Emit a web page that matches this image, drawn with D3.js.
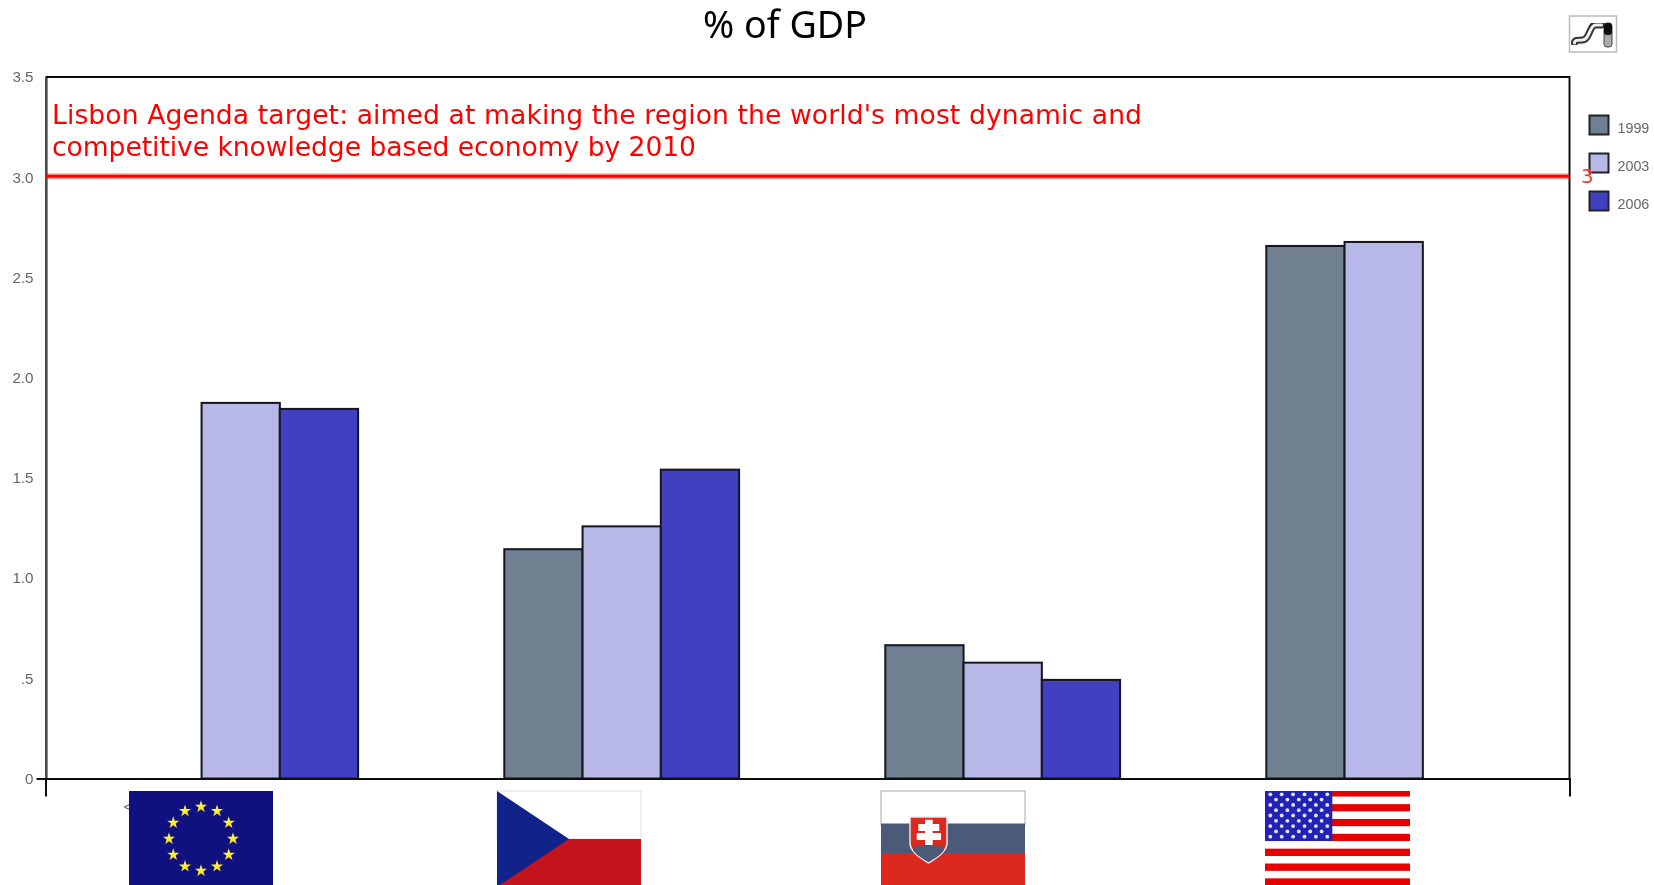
<!DOCTYPE html>
<html lang='en'>

<head>
   <meta charset='UTF-8'>
   <title>% of GDP</title>
   <script src='https://d3js.org/d3.v7.min.js'></script>
   <style>
      body {
         margin: 0;
         background: #fff;
         overflow: hidden;
      }

      svg {
         display: block;
      }

      .tick-label,
      .legend-label {
         font-family: 'Liberation Sans', sans-serif;
         fill: #666;
      }

      .tick-label {
         font-size: 15.2px;
      }

      .legend-label {
         font-size: 14.3px;
      }
   </style>
</head>

<body>
   <div id='svg-container'></div>
   <script>

      const categories = ['EU', 'CZ', 'SK', 'US'];
      const years = ['1999', '2003', '2006'];
      const values1999 = [null, 1.144, 0.665, 2.657];
      const values2003 = [1.874, 1.258, 0.578, 2.677];
      const values2006 = [1.844, 1.541, 0.492, null];
      const yTicks = [0, 0.5, 1, 1.5, 2, 2.5, 3, 3.5];
      const yTickLabels = ['0', '.5', '1.0', '1.5', '2.0', '2.5', '3.0', '3.5'];
      const target = [3];
      const title = '% of GDP';
      const targetNote = ["Lisbon Agenda target: aimed at making the region the world's most dynamic and",
         'competitive knowledge based economy by 2010'];
      const colours = ['#708090', '#b8b8e8', '#4040c0'];

      const seriesValues = [values1999, values2003, values2006];

      const margins = { top: 77, right: 84.5, bottom: 106.5, left: 45.5 };
      const width = 1654 - (margins.left + margins.right);
      const height = 885 - (margins.top + margins.bottom);

      const canvas = d3.select('#svg-container').append('svg').attr('width', 1654).attr('height', 885);

      // the source is a scaled up bitmap, a little blur gets text and edges close to it
      const defs = canvas.append('defs');
      defs.append('filter').attr('id', 'soft').append('feGaussianBlur').attr('stdDeviation', 0.45);
      defs.append('filter').attr('id', 'softer').append('feGaussianBlur').attr('stdDeviation', 0.7);

      const g = canvas.append('g').attr('transform', `translate(${margins.left}, ${margins.top})`);

      const x = d3.scaleBand().domain(categories).range([0, width]);
      const y = d3.scaleLinear().domain([0, 3.5]).range([height, 0]);
      // bars sit about 78px in from the band edge, 78px wide each
      const xYear = d3.scaleBand().domain(years).range([77.8, 312.6]);

      canvas.append('text')
         .attr('x', 785)
         .attr('y', 37.5)
         .attr('text-anchor', 'middle')
         .style('font-family', 'Noto Sans')
         .style('font-size', '37.6px')
         .text(title);

      // bars
      seriesValues.forEach((values, s) => {
         g.append('g').attr('filter', 'url(#soft)').selectAll('rect')
            .data(values.map((v, i) => ({ cat: categories[i], v })).filter(d => d.v !== null))
            .enter()
            .append('rect')
            .attr('x', d => x(d.cat) + xYear(years[s]))
            .attr('y', d => y(d.v))
            .attr('width', xYear.bandwidth())
            .attr('height', d => height - y(d.v))
            .attr('fill', colours[s])
            .attr('stroke', '#14141e')
            .attr('stroke-width', 2);
      });

      // frame
      g.append('path')
         .attr('d', `M0,0H${width}V${height}`)
         .attr('fill', 'none')
         .attr('stroke', '#111')
         .attr('stroke-width', 2)
         .attr('filter', 'url(#soft)');

      const leftAxisCall = d3.axisLeft(y)
         .tickValues(yTicks)
         .tickFormat((d, i) => yTickLabels[i])
         .tickSize(0)
         .tickSizeOuter(0)
         .tickPadding(12);
      const leftAxis = g.append('g').call(leftAxisCall);
      leftAxis.attr('font-size', null).attr('font-family', null).attr('filter', 'url(#soft)');
      leftAxis.select('.domain').attr('stroke', '#111').attr('stroke-width', 2);
      leftAxis.selectAll('text').attr('class', 'tick-label');
      leftAxis.selectAll('.tick').filter(d => d === 0).select('line')
         .attr('x2', -9).attr('stroke', '#111').attr('stroke-width', 2);

      const bottomAxisCall = d3.axisBottom(x).tickValues([]).tickSizeOuter(18);
      g.append('g').attr('transform', `translate(0, ${height})`).attr('filter', 'url(#soft)').call(bottomAxisCall)
         .select('.domain').attr('stroke', '#111').attr('stroke-width', 2);

      // what is left of the first category label, the rest is under the flags
      canvas.append('text')
         .attr('class', 'tick-label')
         .attr('x', 123.5)
         .attr('y', 812)
         .attr('filter', 'url(#soft)')
         .text('<');

      // target line
      g.selectAll('.target-halo').data(target).enter().append('line')
         .attr('class', 'target-halo')
         .attr('x1', 0).attr('x2', width)
         .attr('y1', d => y(d) - 1).attr('y2', d => y(d) - 1)
         .attr('stroke', '#f00').attr('stroke-opacity', 0.35).attr('stroke-width', 6);
      g.selectAll('.target-line').data(target).enter().append('line')
         .attr('class', 'target-line')
         .attr('x1', 0).attr('x2', width)
         .attr('y1', d => y(d) - 1).attr('y2', d => y(d) - 1)
         .attr('stroke', '#f00').attr('stroke-width', 3);

      // the two lines do not scale the same with this font, so fix their widths
      const noteWidths = [1090, 644];
      targetNote.forEach((line, i) => {
         canvas.append('text')
            .attr('x', 52)
            .attr('y', 124 + i * 32)
            .attr('fill', '#f00')
            .attr('textLength', noteWidths[i])
            .attr('lengthAdjust', 'spacing')
            .style('font-family', 'DejaVu Sans')
            .style('font-size', '26.6px')
            .text(line);
      });

      // legend
      const legend = canvas.append('g').selectAll('g').data(years).enter().append('g')
         .attr('transform', (d, i) => `translate(1589.5, ${115.5 + i * 38})`);
      legend.append('rect')
         .attr('width', 19)
         .attr('height', 19)
         .attr('fill', (d, i) => colours[i])
         .attr('stroke', '#222')
         .attr('stroke-width', 2)
         .attr('filter', 'url(#soft)');
      legend.append('text')
         .attr('class', 'legend-label')
         .attr('x', 28)
         .attr('y', 17.5)
         .attr('filter', 'url(#soft)')
         .text(d => d);

      // value of the target line, drawn over the legend
      canvas.selectAll('.target-value').data(target).enter().append('text')
         .attr('class', 'target-value')
         .attr('x', 1581)
         .attr('y', d => margins.top + y(d) + 6)
         .attr('fill', '#f03c3c')
         .style('font-family', 'DejaVu Sans')
         .style('font-size', '20px')
         .text(d => d);

      // toolbar icon, top right
      const icon = canvas.append('g').attr('transform', 'translate(1569.5, 16)');
      icon.append('rect').attr('width', 47).attr('height', 36).attr('fill', '#fff').attr('stroke', '#bbb').attr('stroke-width', 1.5);
      const squiggle = 'M5,27C5,24 8,24 13,24C20,24 20,9 26,9H32';
      icon.append('path').attr('d', squiggle).attr('fill', 'none').attr('stroke', '#333').attr('stroke-width', 7).attr('stroke-linecap', 'round').attr('filter', 'url(#softer)');
      icon.append('path').attr('d', squiggle).attr('fill', 'none').attr('stroke', '#eee').attr('stroke-width', 3).attr('stroke-linecap', 'round');
      icon.append('rect').attr('x', 34.5).attr('y', 7).attr('width', 8).attr('height', 24).attr('rx', 3).attr('fill', '#aaa').attr('stroke', '#444').attr('filter', 'url(#softer)');
      icon.append('rect').attr('x', 34.5).attr('y', 7).attr('width', 8).attr('height', 12).attr('rx', 3).attr('fill', '#111').attr('filter', 'url(#soft)');

      // flags, images in the original. drawn 144x96 from the left edge, cut by the page bottom
      const flagTop = 791;
      const flagW = 144;
      const flagH = 96;
      const flagG = (left) => canvas.append('g').attr('transform', `translate(${left}, ${flagTop})`);

      // EU
      const eu = flagG(129);
      eu.append('rect').attr('width', flagW).attr('height', flagH).attr('fill', '#10107f');
      const starAngle = d3.scaleLinear().domain([0, 12]).range([0, 2 * Math.PI]);
      eu.selectAll('path').data(d3.range(12)).enter().append('path')
         .attr('d', d3.symbol(d3.symbolStar, 46))
         .attr('fill', '#ffee33')
         .attr('transform', d => `translate(${72 + 32 * Math.sin(starAngle(d))}, ${47.7 - 32 * Math.cos(starAngle(d))})`);

      // Czech Republic
      const cz = flagG(497);
      cz.append('rect').attr('width', flagW).attr('height', flagH / 2).attr('fill', '#fff').attr('stroke', '#e2e2e2');
      cz.append('rect').attr('y', flagH / 2).attr('width', flagW).attr('height', flagH / 2).attr('fill', '#c3141e');
      cz.append('path').attr('d', `M0,0L${flagW / 2},${flagH / 2}L0,${flagH}Z`).attr('fill', '#11228b');

      // Slovakia
      const sk = flagG(881);
      sk.append('rect').attr('width', flagW).attr('height', 34).attr('fill', '#fff').attr('stroke', '#aaa');
      sk.append('rect').attr('y', 32.5).attr('width', flagW).attr('height', 30).attr('fill', '#4a5a78');
      sk.append('rect').attr('y', 62).attr('width', flagW).attr('height', 34).attr('fill', '#dc281e');
      const shield = sk.append('g').attr('transform', 'translate(29, 26)');
      shield.append('path').attr('d', 'M0,0H37V26C37,35 26,41 18.5,46C11,41 0,35 0,26Z').attr('fill', '#dc281e').attr('stroke', '#e8e8e8').attr('stroke-width', 1.5);
      shield.append('path').attr('d', 'M3,33C3,29 8,28 11,30C13,26 24,26 26,30C29,28 34,29 34,33C31,38 24,42 18.5,45C13,42 6,38 3,33Z').attr('fill', '#4a5a78');
      shield.append('path').attr('d', 'M15,2.7H22.7V7H29.3V14H22.7V16H31V23H22.7V28H15V23H6.7V16H15V14H8.3V7H15Z').attr('fill', '#fff');

      // USA
      const us = flagG(1265);
      const stripeH = 7.42;
      us.selectAll('.stripe').data(d3.range(14)).enter().append('rect')
         .attr('class', 'stripe')
         .attr('y', d => Math.max(0, d * stripeH - 1.7))
         .attr('width', flagW + 1)
         .attr('height', d => d === 0 ? stripeH - 1.7 : stripeH)
         .attr('fill', d => d % 2 ? '#fff' : '#e60000')
         .attr('filter', 'url(#soft)');
      us.append('rect').attr('width', 67.3).attr('height', 50).attr('fill', '#2222b4').attr('filter', 'url(#soft)');
      const usStars = d3.range(9).flatMap(row => d3.range(row % 2 ? 5 : 6).map(col => [row, col]));
      us.selectAll('.us-star').data(usStars).enter().append('circle')
         .attr('class', 'us-star')
         .attr('cx', d => 5.3 + (d[0] % 2 ? 5.7 : 0) + d[1] * 11.4)
         .attr('cy', d => 3.3 + d[0] * 5.3)
         .attr('r', 1.9)
         .attr('fill', '#e4e4ff')
         .attr('filter', 'url(#softer)');

   </script>
</body>

</html>
